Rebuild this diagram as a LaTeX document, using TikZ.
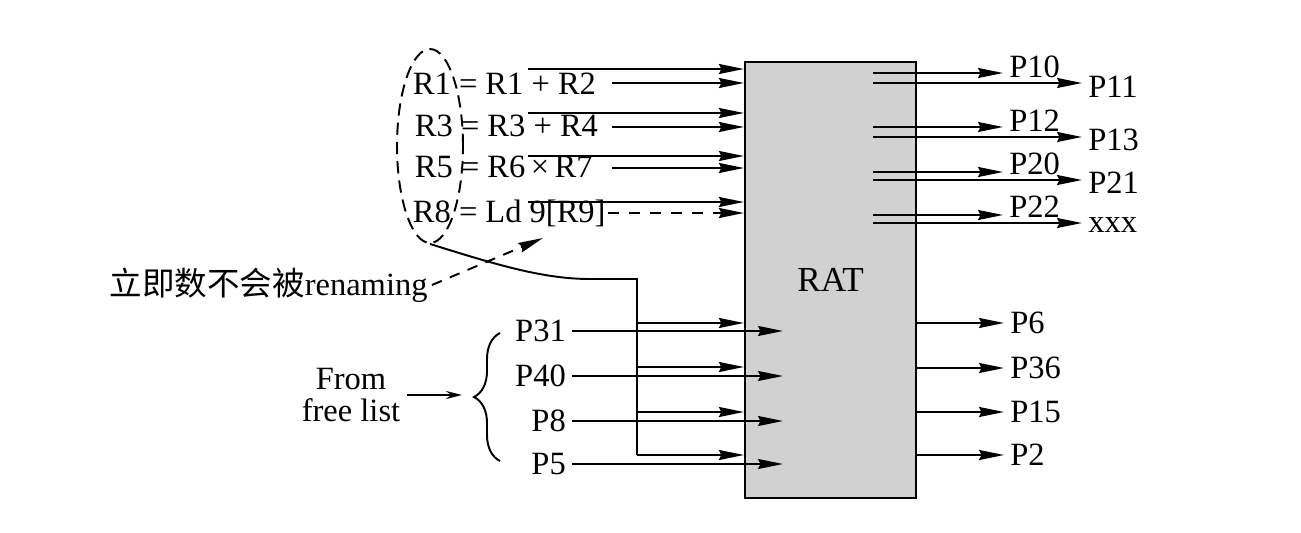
\documentclass[tikz,border=0pt]{standalone}
\usepackage{fontspec}
\setmainfont{Liberation Serif}
\newfontfamily\cjk{Noto Sans CJK SC}
\usetikzlibrary{arrows.meta,shapes.geometric,decorations.pathreplacing}

\begin{document}
\begin{tikzpicture}[
    x=0.02cm, y=-0.02cm,
    >={Stealth[length=0.5cm, width=0.2cm, inset=0.05cm]},
    font=\fontsize{18.5}{20}\selectfont,
    line width=1.1pt,
    feed/.style={->},
    eqline/.style={anchor=base west, inner sep=0pt},
    outlabel/.style={anchor=west, inner sep=3pt},
    inlabel/.style={anchor=east, inner sep=3pt},
    dashline/.style={dash pattern=on 6pt off 6pt},
]
\useasboundingbox (0,0) rectangle (1301,533);

% =====================================================
% RAT box
% =====================================================
\node[draw, fill=black!18, line width=1.3pt, minimum width=3.42cm,
    minimum height=8.72cm, font=\fontsize{20}{22}\selectfont]
    (rat) at (830.5,280) {RAT};

% =====================================================
% Instructions (left, top)
% =====================================================
\node[eqline] (eq1) at (412,95) {R1 = R1 + R2};
\node[eqline] (eq2) at (414,137) {R3 = R3 + R4};
\node[eqline] (eq3) at (414,178) {R5 = R6\,×\,R7};
\node[eqline] (eq4) at (412,223) {R8 = Ld 9[R9]};

\node[draw, ellipse, dash pattern=on 7pt off 4pt, minimum width=1.32cm,
    minimum height=3.88cm, inner sep=0pt] (grp) at (430,146) {};

% source operands
\foreach \i/\y in {1/69, 2/113, 3/156, 4/202} {
    \coordinate (s\i) at (528,\y);
    \draw[feed] (s\i) -- (s\i -| rat.west);
}
\foreach \i/\y in {1/83, 2/127, 3/168} {
    \coordinate (t\i) at (612,\y);
    \draw[feed] (t\i) -- (t\i -| rat.west);
}
\coordinate (t4) at (608,213);
\draw[feed, dashline] (t4) -- (t4 -| rat.west);

% --- immediate note ---
\node[inlabel, inner sep=2pt] (imm) at (432,285)
    {{\cjk 立即数不会被}renaming};
\coordinate (immtip) at (543,238);
\draw[->, dash pattern=on 6pt off 5pt] (imm.east) -- (immtip);

% =====================================================
% Destinations from free list (left, bottom)
% =====================================================
\coordinate (ix) at (783,0);
\foreach \n/\t/\y in {p31/P31/331, p40/P40/376, p8/P8/421, p5/P5/464} {
    \node[inlabel] (\n) at (572,\y) {\t};
    \draw[feed] (\n.east) -- (\n.east -| ix);
}

\coordinate (bend) at (637,279);
\draw (grp.south) .. controls (500,266) and (545,279) .. (590,279)
    -- (bend) -- (637,455);
\foreach \i/\y in {1/323, 2/367, 3/412, 4/455} {
    \coordinate (b\i) at (637,\y);
    \draw[feed] (b\i) -- (b\i -| rat.west);
}

\draw[decorate, decoration={brace, amplitude=0.52cm}] (500,461) -- (500,333);
\coordinate (brtip) at (462,396);

\node[align=center, font=\fontsize{18.5}{18}\selectfont] (free) at (351,395)
    {From\\free list};
\draw[->, >={Stealth[length=0.32cm, width=0.16cm]}]
    (free.east) -- (free.east -| brtip);

% =====================================================
% Outputs (right)
% =====================================================
\foreach \i/\ya/\yb/\la/\lya/\lb/\lyb in {
    1/73/83/P10/67/P11/87, 2/127/137/P12/121/P13/140,
    3/172/180/P20/164/P21/183, 4/215/223/P22/207/xxx/225} {
    \coordinate (u\i) at (873,\ya);
    \coordinate (v\i) at (873,\yb);
    \node[outlabel] (hi\i) at (1003,\lya) {\la};
    \node[outlabel] (lo\i) at (1082,\lyb) {\lb};
    \draw[feed] (u\i) -- (u\i -| hi\i.west);
    \draw[feed] (v\i) -- (v\i -| lo\i.west);
}

\foreach \n/\t/\y in {q6/P6/323, q36/P36/368, q15/P15/412, q2/P2/455} {
    \node[outlabel] (\n) at (1004,\y) {\t};
    \draw[feed] (rat.east |- \n.west) -- (\n.west);
}

\end{tikzpicture}
\end{document}
